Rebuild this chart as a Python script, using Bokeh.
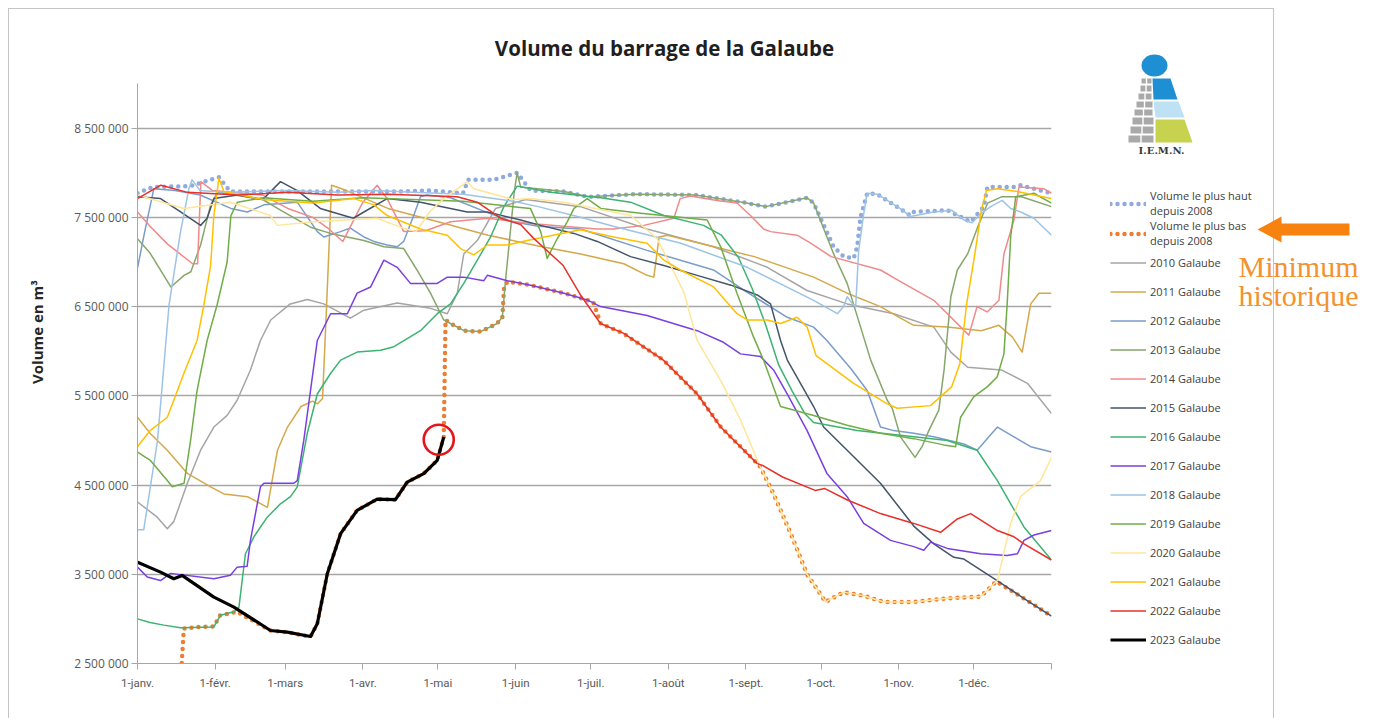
import numpy as np
from bokeh.plotting import figure
from bokeh.layouts import row
from bokeh.models import FixedTicker, Legend, LegendItem, Range1d, Label
from bokeh.core.properties import value
from bokeh.embed import file_html
from bokeh.resources import INLINE

# ---------------- data (day of year, volume in millions of m3) ----------------
MONTH_DAYS = [0, 31, 59, 90, 120, 151, 181, 212, 243, 273, 304, 334, 365]
MONTH_LABELS = ["1-janv.", "1-févr.", "1-mars", "1-avr.", "1-mai", "1-juin", "1-juil.",
                "1-août", "1-sept.", "1-oct.", "1-nov.", "1-déc.", ""]
Y_TICKS = [2500000, 3500000, 4500000, 5500000, 6500000, 7500000, 8500000]

days_max = [0, 6, 21, 32.5, 37, 57, 77, 104, 117, 130, 132, 142, 151.6, 157, 170, 180, 199, 223, 241.5, 251,
            267.4, 270, 278, 282, 286, 287.4, 288.7, 291.4, 295.4, 308.7, 310, 323.4, 332.7, 338, 339.4, 350,
            352.6, 365]
vol_max = [7.77, 7.84, 7.85, 7.95, 7.79, 7.79, 7.79, 7.79, 7.80, 7.77, 7.92, 7.92, 8.0, 7.80, 7.79, 7.73, 7.76,
           7.75, 7.67, 7.62, 7.72, 7.66, 7.17, 7.06, 7.04, 7.17, 7.50, 7.77, 7.76, 7.52, 7.56, 7.58, 7.45, 7.62,
           7.84, 7.84, 7.86, 7.77]

days_min = [0, 17, 18.5, 24, 30.5, 33, 39.8, 41, 53.1, 59.8, 69.1, 71.8, 75.8, 81.1, 87.7, 95.7, 103, 107.7,
            114.3, 119.7, 122.3, 123, 125, 130.4, 137, 143.6, 145.7, 146.4, 147.7, 157, 170.3, 180, 182, 185, 194,
            210, 223.5, 233, 247.5, 248.8, 254, 260.8, 267.4, 274.8, 282, 290, 298, 310, 323.4, 336.7, 343,
            353.9, 365]
vol_min = [2.2, 2.2, 2.89, 2.91, 2.915, 3.04, 3.08, 3.06, 2.87, 2.85, 2.80, 2.945, 3.506, 3.955, 4.216, 4.343,
           4.336, 4.533, 4.628, 4.777, 5.038, 6.35, 6.31, 6.23, 6.22, 6.31, 6.38, 6.72, 6.78, 6.74, 6.65, 6.57,
           6.55, 6.31, 6.20, 5.90, 5.52, 5.15, 4.74, 4.70, 4.40, 3.96, 3.50, 3.19, 3.30, 3.26, 3.19, 3.19, 3.23,
           3.25, 3.42, 3.23, 3.03]

days_2010 = [0, 7.9, 11.9, 14.5, 19.9, 25.2, 30.5, 35.8, 39.8, 45.1, 49.1, 53.2, 61, 67.8, 74.4, 85, 90.4, 103.7,
             117, 123.7, 127.7, 130.3, 135.7, 143, 155, 176.9, 203.5, 230, 251.5, 267.4, 283.4, 302, 318, 324.8,
             331.5, 345, 355.4, 365]
vol_2010 = [4.31, 4.14, 4.01, 4.09, 4.52, 4.89, 5.15, 5.28, 5.45, 5.79, 6.12, 6.35, 6.53, 6.58, 6.53, 6.37, 6.46,
            6.54, 6.48, 6.42, 6.65, 7.09, 7.24, 7.60, 7.70, 7.62, 7.37, 7.17, 6.94, 6.68, 6.53, 6.42, 6.27, 5.99,
            5.82, 5.79, 5.64, 5.30]

days_2011 = [0, 5, 11.9, 19.9, 29.2, 34.5, 43.9, 51.9, 55.9, 59.9, 65.3, 69.9, 71.9, 73.9, 75.5, 77.5, 83.5, 100,
             120, 140, 160, 176.9, 194.2, 203.5, 206.2, 208.3, 211.6, 230.3, 246.3, 270, 283.4, 296.7, 304.7, 310,
             323.4, 337, 344, 349.3, 353.3, 356.7, 360, 365]
vol_2011 = [5.26, 5.08, 4.89, 4.63, 4.48, 4.40, 4.37, 4.25, 4.89, 5.15, 5.38, 5.44, 5.41, 5.47, 6.5, 7.86, 7.80,
            7.6, 7.45, 7.3, 7.18, 7.09, 6.98, 6.85, 6.83, 7.28, 7.30, 7.17, 7.06, 6.83, 6.65, 6.50, 6.37, 6.29,
            6.27, 6.23, 6.29, 6.16, 5.99, 6.53, 6.65, 6.65]

days_2012 = [0, 2.6, 6.5, 15, 25, 37.3, 43.9, 50.5, 63.8, 71.8, 74.4, 81.1, 85, 90.4, 94.4, 99.7, 103.7, 106.3,
             110.3, 113, 115.6, 125, 140, 150, 160, 176.9, 203.5, 230, 243.5, 259.5, 270, 275.3, 285, 291.4,
             296.7, 302, 310, 318, 330, 335.3, 343.4, 350, 356.7, 365]
vol_2012 = [6.93, 7.3, 7.82, 7.80, 7.75, 7.60, 7.56, 7.64, 7.67, 7.34, 7.28, 7.34, 7.38, 7.28, 7.23, 7.19, 7.17,
            7.23, 7.52, 7.73, 7.75, 7.72, 7.55, 7.45, 7.40, 7.37, 7.13, 6.91, 6.66, 6.38, 6.27, 6.12, 5.80, 5.56,
            5.15, 5.11, 5.08, 5.04, 4.96, 4.89, 5.15, 5.04, 4.93, 4.87]

days_2013 = [0, 5, 13.3, 18.6, 21.3, 25.2, 29.2, 32, 50, 57.1, 69.1, 77.1, 90.4, 98.4, 106.3, 111.6, 117, 122.3,
             125, 130.4, 137, 143.6, 145.7, 147, 150.4, 151.6, 153, 170.3, 180, 199, 222.8, 241.5, 250.8, 267.4,
             270, 278, 283.4, 292.8, 299.4, 301.4, 304.7, 310.5, 313.3, 316, 320, 322.1, 324.8, 327.4, 331.5,
             335.5, 339.5, 345, 353, 365]
vol_2013 = [7.26, 7.1, 6.72, 6.85, 6.89, 7.19, 7.64, 7.78, 7.70, 7.58, 7.39, 7.32, 7.24, 7.17, 7.15, 6.91, 6.65,
            6.35, 6.31, 6.23, 6.22, 6.31, 6.38, 6.8, 7.77, 8.0, 7.84, 7.79, 7.73, 7.76, 7.75, 7.67, 7.62, 7.72,
            7.66, 7.09, 6.76, 5.90, 5.45, 5.36, 5.04, 4.81, 4.93, 5.11, 5.34, 5.79, 6.61, 6.91, 7.09, 7.39, 7.66,
            7.73, 7.73, 7.62]

days_2014 = [0, 5, 12, 22, 24, 25.3, 30, 50, 60, 70, 76, 82, 90, 95.7, 99.7, 106.3, 115, 125, 140, 157, 183.4,
             190, 202.2, 214.2, 216.7, 220.7, 231.4, 239.4, 244.8, 250, 252.8, 263.4, 268.8, 277, 296.7, 304.7,
             318, 331.3, 332, 335.3, 339.3, 344, 346, 350, 352, 362, 365]
vol_2014 = [7.56, 7.4, 7.2, 6.98, 6.98, 7.90, 7.80, 7.75, 7.6, 7.5, 7.38, 7.23, 7.67, 7.86, 7.71, 7.34, 7.35,
            7.45, 7.49, 7.43, 7.37, 7.37, 7.41, 7.49, 7.71, 7.74, 7.69, 7.66, 7.52, 7.37, 7.34, 7.30, 7.21, 7.06,
            6.91, 6.78, 6.57, 6.20, 6.18, 6.50, 6.44, 6.57, 7.09, 7.47, 7.84, 7.82, 7.77]

days_2015 = [0, 9.2, 17.2, 25.2, 27.8, 30.5, 40, 50, 57.1, 63.8, 73, 86.2, 90.4, 99.7, 113, 131.7, 139.7, 153,
             161, 174.3, 183.6, 196.9, 210.2, 223.5, 237, 247.5, 252.8, 256.8, 259.5, 270, 274, 283.4, 296.7, 310,
             318, 326, 330, 343.3, 353.9, 365]
vol_2015 = [7.73, 7.71, 7.56, 7.41, 7.49, 7.71, 7.75, 7.70, 7.90, 7.80, 7.60, 7.49, 7.56, 7.71, 7.67, 7.56, 7.56,
            7.47, 7.41, 7.32, 7.23, 7.06, 6.96, 6.85, 6.74, 6.63, 6.53, 6.12, 5.90, 5.38, 5.15, 4.89, 4.52, 4.04,
            3.84, 3.69, 3.67, 3.43, 3.23, 3.03]

days_2016 = [0, 5, 10.5, 17.2, 30.5, 33.1, 38.5, 40.5, 43.1, 46.5, 51.8, 57.1, 61.1, 63.8, 67.8, 71.8, 77.1,
             81.1, 87.7, 97.1, 102.4, 113, 119.7, 125, 130.3, 135.7, 141, 146.3, 151.6, 165, 185, 196.9, 210.2,
             226, 233.2, 240, 245.5, 250.8, 256, 261.5, 266.5, 270, 287.4, 310, 323.4, 335.3, 343.4, 354, 365]
vol_2016 = [3.00, 2.96, 2.93, 2.90, 2.91, 3.04, 3.08, 3.13, 3.73, 3.92, 4.14, 4.29, 4.37, 4.48, 5.08, 5.52, 5.75,
            5.90, 5.99, 6.01, 6.05, 6.23, 6.42, 6.53, 6.76, 7.02, 7.28, 7.62, 7.85, 7.78, 7.72, 7.67, 7.52, 7.41,
            7.30, 7.05, 6.70, 6.30, 5.85, 5.55, 5.30, 5.20, 5.11, 5.04, 5.00, 4.89, 4.55, 4.03, 3.66]

days_2017 = [0, 3.9, 9.2, 13.2, 30.5, 37.1, 39.8, 43.8, 45.1, 49.1, 50.5, 62.4, 63.8, 66.4, 69.1, 71.8, 77.1,
             83.8, 87.7, 93.1, 98.4, 103.7, 109, 119.7, 123.7, 130.3, 138.3, 139.7, 147.7, 157, 170.3, 180, 184.9,
             203.5, 223.5, 234, 240.8, 248.8, 254, 259.5, 267.4, 275.3, 283.4, 290, 300.7, 310, 314, 316.7, 323.4,
             336.7, 347.3, 351.4, 354, 358, 365]
vol_2017 = [3.58, 3.47, 3.43, 3.51, 3.45, 3.49, 3.58, 3.59, 3.88, 4.48, 4.52, 4.52, 4.55, 5.00, 5.56, 6.12, 6.42,
            6.42, 6.65, 6.72, 7.02, 6.94, 6.76, 6.76, 6.83, 6.83, 6.79, 6.85, 6.79, 6.74, 6.65, 6.57, 6.50, 6.40,
            6.23, 6.10, 5.97, 5.94, 5.79, 5.52, 5.11, 4.63, 4.37, 4.07, 3.88, 3.81, 3.77, 3.86, 3.79, 3.73, 3.71,
            3.73, 3.88, 3.94, 3.99]

days_2018 = [0, 2.5, 8, 12.6, 17.2, 20.5, 21.8, 25, 35, 60, 80, 95, 110, 130, 150, 160, 176.9, 190, 217, 243.5,
             270, 279.5, 282, 283.4, 285.5, 286.8, 288, 290, 291.4, 295.4, 304.5, 308.7, 318, 325.1, 330, 333.3,
             336.7, 340.7, 345.3, 348.7, 352.7, 358, 365]
vol_2018 = [4.0, 4.0, 5.0, 6.52, 7.34, 7.82, 7.92, 7.80, 7.78, 7.80, 7.78, 7.80, 7.78, 7.76, 7.68, 7.62, 7.50,
            7.40, 7.21, 6.94, 6.57, 6.42, 6.50, 6.61, 6.53, 6.50, 7.13, 7.54, 7.77, 7.76, 7.60, 7.51, 7.56, 7.58,
            7.47, 7.44, 7.54, 7.62, 7.69, 7.60, 7.56, 7.49, 7.30]

days_2019 = [0, 5, 11.9, 13.9, 18.6, 21.2, 23.8, 27.8, 31.8, 35.8, 37.3, 39.9, 50, 70, 90, 110, 130, 150, 156.9,
             161, 163.6, 167.6, 171.6, 174.3, 179.6, 185, 200, 227.5, 232.9, 239.4, 246, 250, 256.8, 270, 283.4,
             296.7, 310, 322, 326.7, 328.7, 334, 339.3, 343.3, 346, 347.3, 348.7, 350.7, 358, 365]
vol_2019 = [4.87, 4.78, 4.55, 4.48, 4.52, 5.0, 5.56, 6.12, 6.52, 7.0, 7.52, 7.67, 7.72, 7.68, 7.72, 7.70, 7.68,
            7.62, 7.60, 7.34, 7.04, 7.26, 7.45, 7.60, 7.71, 7.60, 7.55, 7.47, 7.17, 6.65, 6.16, 5.90, 5.38, 5.28,
            5.17, 5.08, 5.02, 4.95, 4.93, 5.26, 5.49, 5.60, 5.71, 5.97, 6.53, 7.28, 7.73, 7.77, 7.66]

days_2020 = [0, 18.5, 37.1, 53.1, 55.9, 70, 95.7, 105, 111.3, 116.6, 122.3, 131.7, 134.3, 150, 157, 170.3, 197,
             207.5, 212.9, 218.2, 223.5, 232.9, 240.8, 247.5, 248.8, 254, 260.8, 267.4, 274.8, 282, 290, 298, 310,
             323.4, 336.7, 343.4, 348.7, 352.6, 360.6, 365]
vol_2020 = [7.75, 7.60, 7.67, 7.52, 7.41, 7.45, 7.49, 7.39, 7.34, 7.56, 7.71, 7.90, 7.82, 7.70, 7.71, 7.67, 7.52,
            7.26, 6.96, 6.66, 6.12, 5.67, 5.23, 4.78, 4.70, 4.40, 3.96, 3.50, 3.19, 3.30, 3.26, 3.19, 3.19, 3.23,
            3.25, 3.43, 4.07, 4.37, 4.55, 4.81]

days_2021 = [0, 5, 11.9, 14.5, 18.5, 23.8, 26.5, 29.2, 30.5, 32.5, 34.5, 50, 70, 73.1, 86.4, 94.4, 99.7, 113,
             123.7, 129, 134.3, 139.7, 147.7, 155.6, 176.9, 190.2, 203.5, 210.2, 216.8, 230.1, 239.4, 243.5, 251.5,
             256.8, 263.4, 267.4, 271, 286, 299.4, 303.4, 316.7, 325.1, 328.4, 331.1, 334.4, 337, 339, 343.4, 351.4,
             358, 365]
vol_2021 = [4.93, 5.11, 5.26, 5.45, 5.75, 6.12, 6.52, 6.96, 7.52, 7.94, 7.79, 7.70, 7.66, 7.67, 7.71, 7.64, 7.52,
            7.37, 7.30, 7.15, 7.08, 7.19, 7.19, 7.24, 7.36, 7.28, 7.21, 7.02, 6.91, 6.72, 6.42, 6.35, 6.35, 6.31,
            6.38, 6.27, 5.95, 5.64, 5.41, 5.36, 5.39, 5.60, 5.86, 6.53, 7.09, 7.58, 7.80, 7.82, 7.79, 7.75, 7.71]

days_2022 = [0, 9.3, 20, 40, 60, 80, 100, 120, 127.7, 135.7, 145, 153, 158, 170, 176.9, 184.9, 194.2, 210, 223.5,
             232.9, 247.5, 249.6, 257.6, 270.6, 274.5, 283.7, 296.7, 310, 320.7, 327.4, 332.7, 343.4, 350, 354, 365]
vol_2022 = [7.71, 7.86, 7.78, 7.75, 7.78, 7.75, 7.76, 7.74, 7.73, 7.67, 7.49, 7.42, 7.27, 6.96, 6.63, 6.31, 6.20,
            5.90, 5.52, 5.15, 4.74, 4.72, 4.59, 4.44, 4.46, 4.33, 4.18, 4.07, 3.97, 4.12, 4.18, 3.99, 3.92, 3.84,
            3.66]

days_2023 = [0, 9.2, 14.5, 17.8, 30.5, 38.5, 53.1, 59.8, 69.1, 71.8, 75.8, 81.1, 87.7, 95.7, 103, 107.7, 114.3,
             119.7, 122.3]
vol_2023 = [3.636, 3.524, 3.45, 3.487, 3.244, 3.132, 2.87, 2.851, 2.803, 2.945, 3.506, 3.955, 4.216, 4.343,
            4.336, 4.533, 4.628, 4.777, 5.038]

SERIES = [
    ("Volume le plus haut\ndepuis 2008", days_max, vol_max, "#8FAADC", "dot"),
    ("Volume le plus bas\ndepuis 2008", days_min, vol_min, "#ED7D31", "dot"),
    ("2010 Galaube", days_2010, vol_2010, "#A5A5A5", 1.5),
    ("2011 Galaube", days_2011, vol_2011, "#D4A84B", 1.5),
    ("2012 Galaube", days_2012, vol_2012, "#7A9CCB", 1.5),
    ("2013 Galaube", days_2013, vol_2013, "#86A66A", 1.5),
    ("2014 Galaube", days_2014, vol_2014, "#F08A8A", 1.5),
    ("2015 Galaube", days_2015, vol_2015, "#44546A", 1.5),
    ("2016 Galaube", days_2016, vol_2016, "#3CB371", 1.5),
    ("2017 Galaube", days_2017, vol_2017, "#7A3FE0", 1.5),
    ("2018 Galaube", days_2018, vol_2018, "#9DC3E6", 1.5),
    ("2019 Galaube", days_2019, vol_2019, "#70AD47", 1.5),
    ("2020 Galaube", days_2020, vol_2020, "#FFE699", 1.5),
    ("2021 Galaube", days_2021, vol_2021, "#FFC000", 1.5),
    ("2022 Galaube", days_2022, vol_2022, "#E8302A", 1.5),
    ("2023 Galaube", days_2023, vol_2023, "#000000", 3.2),
]


def line_style(color, style):
    if style == "dot":
        return dict(line_color=color, line_width=4.5, line_dash="0 7", line_cap="round")
    return dict(line_color=color, line_width=style, line_join="round")


# ---------------- layout geometry (page pixels) ----------------
FRAME_LEFT, FRAME_RIGHT = 137, 1051      # x axis: 1-janv. ... 31-déc.
AXIS_TOP, FRAME_BOTTOM = 83, 663         # y axis: 9 000 000 ... 2 500 000
Y_MIN, Y_MAX = 2.5e6, 9.0e6
# the frame reaches the top of the canvas so that the title area can be drawn inside it
Y_TOP = Y_MAX + AXIS_TOP * (Y_MAX - Y_MIN) / (FRAME_BOTTOM - AXIS_TOP)
P_W, H = 1100, 718

p = figure(width=P_W, height=H, output_backend="svg", toolbar_location=None,
           x_range=Range1d(0, 365), y_range=Range1d(Y_MIN, Y_TOP),
           min_border_left=FRAME_LEFT, min_border_right=P_W - FRAME_RIGHT,
           min_border_top=0, min_border_bottom=H - FRAME_BOTTOM)
p.title.visible = False
p.outline_line_color = None
p.background_fill_alpha = 0
p.border_fill_alpha = 0

p.xaxis.ticker = FixedTicker(ticks=MONTH_DAYS)
p.xaxis.major_label_overrides = {d: lbl for d, lbl in zip(MONTH_DAYS, MONTH_LABELS)}
p.yaxis.ticker = FixedTicker(ticks=Y_TICKS)
p.yaxis.major_label_overrides = {t: f"{t:,}".replace(",", " ") for t in Y_TICKS}
p.yaxis.bounds = (Y_MIN, Y_MAX)

for ax in (p.xaxis[0], p.yaxis[0]):
    ax.axis_line_color = "#A6A6A6"
    ax.major_tick_line_color = "#A6A6A6"
    ax.minor_tick_line_color = None
    ax.major_tick_in = 0
    ax.major_tick_out = 6
    ax.major_label_text_color = "#595959"
    ax.major_label_text_font = "Open Sans"
p.xaxis.major_label_text_font = "Roboto"
p.xaxis.major_label_text_font_size = "11.5px"
p.xaxis.major_label_standoff = 6
p.yaxis.major_label_text_font_size = "12px"
p.yaxis.major_label_standoff = 3
p.yaxis.axis_label = "Volume en m³"
p.yaxis.axis_label_text_font = "Open Sans"
p.yaxis.axis_label_text_font_style = "bold"
p.yaxis.axis_label_text_font_size = "15px"
p.yaxis.axis_label_text_color = "#262626"
p.yaxis.axis_label_standoff = 24

p.xgrid.grid_line_color = None
p.ygrid.grid_line_color = "#A6A6A6"
p.ygrid.grid_line_width = 1.4

for label, dx, vy, color, style in SERIES:
    p.line(dx, [v * 1e6 for v in vy], **line_style(color, style))

# red circle around the last 2023 value
p.scatter(x=[days_2023[-1] - 2], y=[vol_2023[-1] * 1e6 - 30000], marker="circle", size=30,
          fill_color=None, line_color="#E3161B", line_width=2.6)

# title (inside the tall frame, in screen pixels from the frame's bottom-left corner)
p.add_layout(Label(x=664 - FRAME_LEFT, y=FRAME_BOTTOM - 47, x_units="screen", y_units="screen",
                   text="Volume du barrage de la Galaube", text_align="center", text_baseline="middle",
                   text_font="Open Sans", text_font_style="bold", text_font_size="20.5px",
                   text_color="#1F1F1F"))

# ---------------- right side: legend, logo, annotation (page-pixel coordinates) ----------------
QX0, QW = P_W, 275
q = figure(width=QW, height=H, output_backend="svg", toolbar_location=None,
           x_range=Range1d(QX0, QX0 + QW), y_range=Range1d(FRAME_BOTTOM, 0),
           x_axis_location=None, y_axis_location=None,
           min_border_left=0, min_border_right=0, min_border_top=0, min_border_bottom=H - FRAME_BOTTOM)
q.title.visible = False
q.grid.visible = False
q.outline_line_color = None
q.background_fill_alpha = 0
q.border_fill_alpha = 0

items = []
for label, dx, vy, color, style in SERIES:
    proxy = q.line([QX0 - 60, QX0 - 40], [-50, -50], **line_style(color, style))  # off-canvas legend proxy
    items.append(LegendItem(label=label, renderers=[proxy]))
legend = Legend(items=items, location=(10, 9), padding=0, margin=0, spacing=0,
                glyph_width=36, glyph_height=29, label_height=29, label_standoff=4,
                label_text_font="Open Sans", label_text_font_size="11px", label_text_color="#404040",
                background_fill_alpha=0, border_line_color=None)
q.add_layout(legend)

# I.E.M.N. logo
q.ellipse(x=[1154], y=[65], width=26, height=22, fill_color="#1E8FD2", line_color=None)
q.patches(xs=[[1152, 1170, 1177, 1153], [1153, 1178, 1184, 1155], [1155, 1184, 1192, 1155]],
          ys=[[78, 78, 99, 99], [101, 101, 117, 117], [119, 119, 142, 142]],
          fill_color=["#1E8FD2", "#BFE1F4", "#C7D24E"], line_color=None)
brick_rows = [(1141, 1151, 78, 83), (1140, 1151, 85, 91), (1138, 1151, 93, 99), (1136, 1152, 101, 107),
              (1134, 1152, 109, 115), (1132, 1153, 117, 124), (1130, 1153, 126, 133), (1128, 1153, 135, 142)]
bl, br, bt, bb = [], [], [], []
for x0, x1, y0, y1 in brick_rows:
    xm = (x0 + x1) / 2
    bl += [x0, xm + 0.7]
    br += [xm - 0.7, x1]
    bt += [y0, y0]
    bb += [y1, y1]
q.quad(left=bl, right=br, top=bt, bottom=bb, fill_color="#A9A9A9", line_color=None)
q.text(x=[1161], y=[150], text=["I.E.M.N."], text_align="center", text_baseline="middle",
       text_font=value("DejaVu Serif"), text_font_style="bold", text_font_size=value("10px"),
       text_color="#3A3A3A")

# orange arrow and annotation
q.patch(x=[1257, 1281, 1281, 1349, 1349, 1281, 1281], y=[229, 216, 223, 223, 235, 235, 242],
        fill_color="#F7820F", line_color=None)
q.text(x=[1238, 1238], y=[266, 295], text=["Minimum", "historique"], text_align="left",
       text_baseline="alphabetic", text_font=value("Liberation Serif"), text_font_size=value("30px"),
       text_color="#F29232")

# light grey chart-area border (left, top, right) drawn behind both canvases
border_css = {
    "background-image": ("linear-gradient(#C4C4C4, #C4C4C4), linear-gradient(#C4C4C4, #C4C4C4), "
                         "linear-gradient(#C4C4C4, #C4C4C4)"),
    "background-position": "8px 8px, 8px 8px, 1273px 8px",
    "background-size": "1px 100%, 1266px 1px, 1px 100%",
    "background-repeat": "no-repeat",
}
layout = row(p, q, styles=border_css)

open("out.html", "w").write(file_html(layout, INLINE))
